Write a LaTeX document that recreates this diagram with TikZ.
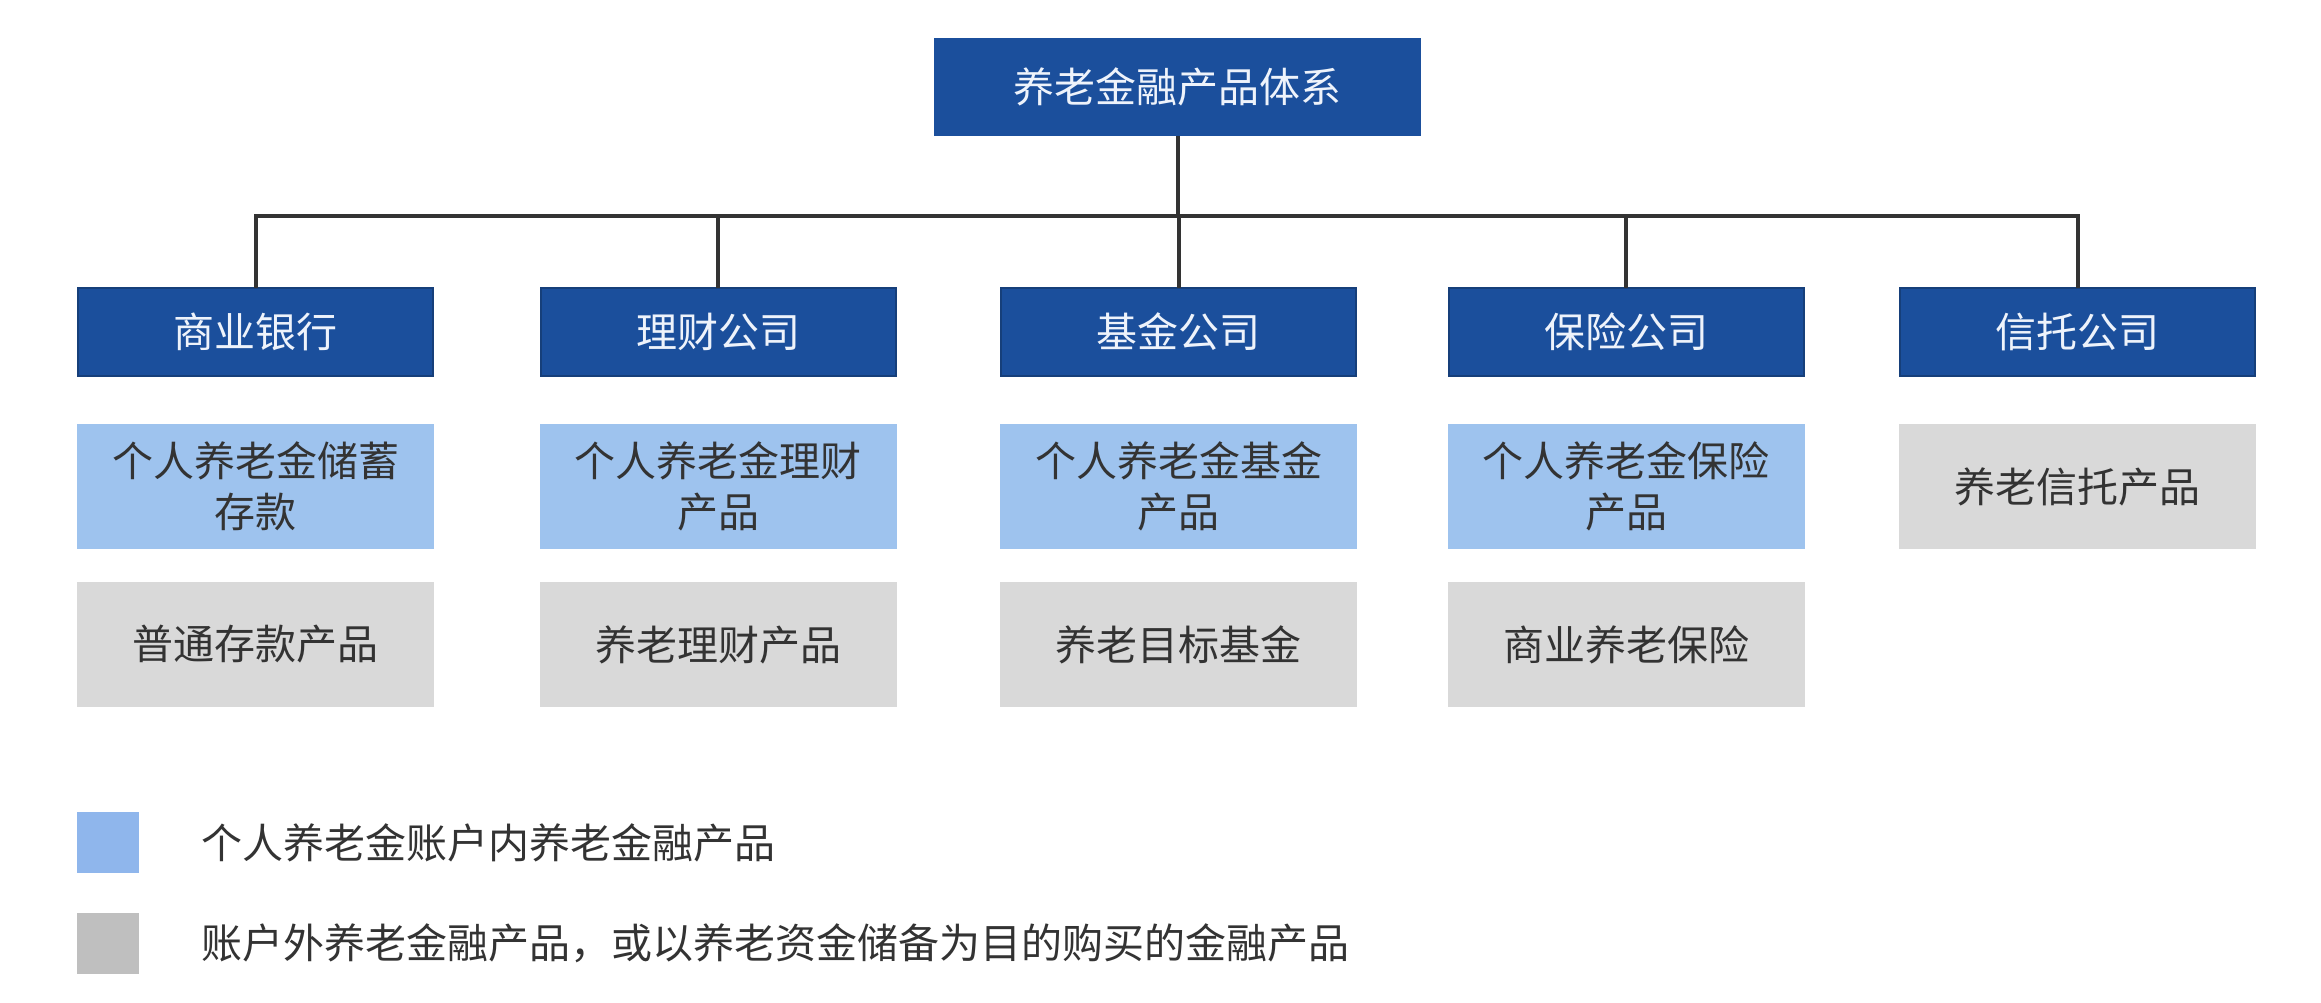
\documentclass[tikz,border=0pt]{standalone}
\usepackage{fontspec}
\setmainfont{Noto Sans CJK SC}
\definecolor{dkblue}{HTML}{1B4F9C}
\definecolor{edgeblue}{HTML}{163F7A}
\definecolor{ltblue}{HTML}{9EC3EE}
\definecolor{ltgray}{HTML}{D9D9D9}
\definecolor{lggray}{HTML}{BFBFBF}
\definecolor{lgblue}{HTML}{8FB6EC}
\definecolor{toptext}{HTML}{EEF3FB}
\definecolor{boxtext}{HTML}{333333}
\definecolor{linegray}{HTML}{333333}
\begin{document}
\begin{tikzpicture}[x=1pt,y=1pt,
  every node/.style={inner sep=0pt, outer sep=0pt},
  txt/.style={font=\fontsize{41}{51}\selectfont},
  topbox/.style={txt, fill=dkblue, minimum width=487pt, minimum height=98pt, text=toptext},
  orgbox/.style={txt, fill=dkblue, draw=edgeblue, line width=2pt, minimum width=355pt, minimum height=88pt, text=toptext},
  inbox/.style={txt, fill=ltblue, minimum width=357pt, minimum height=125pt, text=boxtext, align=center},
  outbox/.style={txt, fill=ltgray, minimum width=357pt, minimum height=125pt, text=boxtext, align=center},
  legsq/.style={minimum width=62pt, minimum height=61pt},
  legtxt/.style={txt, text=boxtext, anchor=west},
  link/.style={draw=linegray, line width=4pt}
]
\useasboundingbox (0,0) rectangle (2321,-1003);
\fill[white] (0,0) rectangle (2321,-1003);

\node[topbox] (top) at (1177.5,-87) {养老金融产品体系};

\node[orgbox] (bank)  at (255.5,-332) {商业银行};
\node[orgbox] (wm)    at (718,-332)   {理财公司};
\node[orgbox] (fund)  at (1178.5,-332){基金公司};
\node[orgbox] (ins)   at (1626,-332)  {保险公司};
\node[orgbox] (trust) at (2077.5,-332){信托公司};

\coordinate (bus) at (0,-216);
\draw[link] (top.south) -- (top.south |- bus);
\draw[link] (bank.north) -- (bank.north |- bus) -- (trust.north |- bus) -- (trust.north);
\draw[link] (wm.north |- bus) -- (wm.north);
\draw[link] (fund.north |- bus) -- (fund.north);
\draw[link] (ins.north |- bus) -- (ins.north);

\node[inbox] (b1) at (255.5,-486.5) {个人养老金储蓄\\存款};
\node[inbox] (w1) at (718,-486.5)   {个人养老金理财\\产品};
\node[inbox] (f1) at (1178.5,-486.5){个人养老金基金\\产品};
\node[inbox] (i1) at (1626,-486.5)  {个人养老金保险\\产品};
\node[outbox] (t1) at (2077.5,-486.5){养老信托产品};

\node[outbox] (b2) at (255.5,-644.5) {普通存款产品};
\node[outbox] (w2) at (718,-644.5)   {养老理财产品};
\node[outbox] (f2) at (1178.5,-644.5){养老目标基金};
\node[outbox] (i2) at (1626,-644.5)  {商业养老保险};

\node[legsq, fill=lgblue] (lg1) at (108,-842.5) {};
\node[legtxt] (lt1) at (201,-842.5) {个人养老金账户内养老金融产品};
\node[legsq, fill=lggray] (lg2) at (108,-943.5) {};
\node[legtxt] (lt2) at (201,-943.5) {账户外养老金融产品，或以养老资金储备为目的购买的金融产品};
\end{tikzpicture}
\end{document}
